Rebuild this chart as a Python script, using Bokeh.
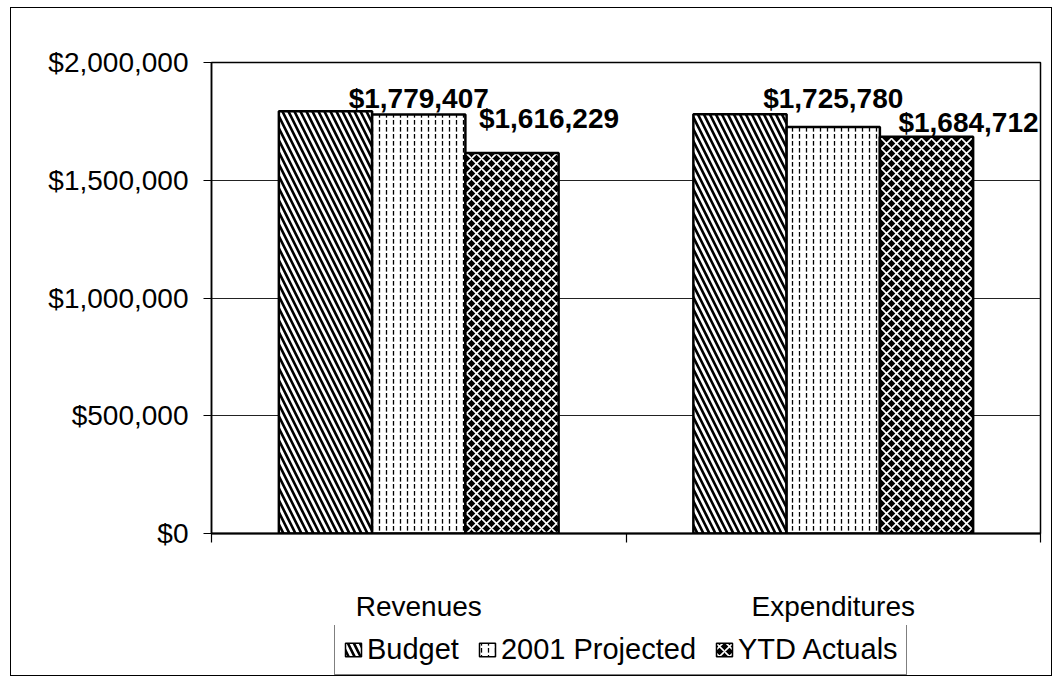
from bokeh.plotting import figure
from bokeh.layouts import column
from bokeh.models import (ColumnDataSource, Range1d, FixedTicker, NumeralTickFormatter,
                          LinearAxis, Legend, LegendItem, LabelSet, Grid, CustomJSTickFormatter)
from bokeh.core.properties import value
from bokeh.embed import file_html
from bokeh.resources import INLINE

# ---------------- data ----------------
categories = ["Revenues", "Expenditures"]
series = ["Budget", "2001 Projected", "YTD Actuals"]
budget = [1793000, 1780000]
projected = [1779407, 1725780]
ytd_actuals = [1616229, 1684712]
y_ticks = [0, 500000, 1000000, 1500000, 2000000]

# ---------------- styles ----------------
FONT = "Liberation Sans"
W = 1040
bar_w = 0.225
dodges = [-bar_w, 0.0, bar_w]
# (pattern, scale, weight, fill colour, hatch colour)
hatches = [("\\", 12, 2.6, "white", "black"),
           (":", 7, 1.3, "white", "black"),
           ("x", 10, 1.6, "black", "white")]
# manual label nudges (screen px), as placed in the original
proj_dx, proj_dy = [0, 0], [16, 29]
ytd_dx, ytd_dy = [37, 42], [34, 14]

p = figure(width=W, height=617,
           x_range=Range1d(0, len(categories)), y_range=Range1d(0, 2000000),
           x_axis_type=None, y_axis_type=None,
           output_backend="svg", toolbar_location=None,
           min_border_left=200, min_border_right=11, min_border_top=54, min_border_bottom=92)
p.outline_line_color = "black"
p.outline_line_width = 1.5
p.background_fill_color = "white"
p.border_fill_color = "white"

yaxis = LinearAxis(ticker=FixedTicker(ticks=y_ticks, minor_ticks=[]),
                   formatter=NumeralTickFormatter(format="$0,0"))
yaxis.major_label_text_font = FONT
yaxis.major_label_text_font_size = "28px"
yaxis.major_label_text_color = "black"
yaxis.axis_line_width = 1.5
yaxis.major_tick_out = 8
yaxis.major_tick_in = 0
yaxis.major_tick_line_width = 1.2
yaxis.minor_tick_out = 0
yaxis.major_label_standoff = 15
p.add_layout(yaxis, "left")

xaxis = LinearAxis(ticker=FixedTicker(ticks=[i + 0.5 for i in range(len(categories))],
                                      minor_ticks=list(range(len(categories) + 1))),
                   formatter=CustomJSTickFormatter(args=dict(names=categories),
                                                   code="return names[Math.floor(tick)] || ''"))
xaxis.major_label_text_font = FONT
xaxis.major_label_text_font_size = "28px"
xaxis.major_label_text_color = "black"
xaxis.axis_line_width = 2
xaxis.major_tick_out = 0
xaxis.major_tick_in = 0
xaxis.minor_tick_out = 9
xaxis.minor_tick_in = 0
xaxis.minor_tick_line_width = 1.2
xaxis.major_label_standoff = 48
p.add_layout(xaxis, "below")

p.add_layout(Grid(dimension=1, ticker=FixedTicker(ticks=y_ticks[1:-1]),
                  grid_line_color="#222222", grid_line_width=1))

sources = []
for j, vals in enumerate([budget, projected, ytd_actuals]):
    src = ColumnDataSource(dict(x=[i + 0.5 + dodges[j] for i in range(len(categories))], top=vals))
    sources.append(src)
    pat, sc, wt, fc, hc = hatches[j]
    p.vbar(x="x", top="top", width=bar_w, source=src,
           fill_color=fc, line_color="black", line_width=2.5,
           hatch_pattern=pat, hatch_scale=sc, hatch_weight=wt, hatch_color=hc)

lab = ColumnDataSource(dict(
    x=[i + 0.5 + dodges[1] for i in range(len(categories))] + [i + 0.5 + dodges[2] for i in range(len(categories))],
    y=projected + ytd_actuals,
    text=[f"${v:,}" for v in projected + ytd_actuals],
    dx=proj_dx + ytd_dx,
    dy=proj_dy + ytd_dy,
))
p.add_layout(LabelSet(x="x", y="y", text="text", x_offset="dx", y_offset="dy", source=lab,
                      text_align="center", text_baseline="middle",
                      text_font=value(FONT), text_font_style="bold", text_font_size=value("28px"),
                      text_color="black"))

# ---------------- legend strip (separate figure so the box is not clipped) ----------------
lf = figure(width=W, height=50, x_range=Range1d(0, 1), y_range=Range1d(0, 1),
            x_axis_type=None, y_axis_type=None, output_backend="svg", toolbar_location=None,
            min_border=0)
lf.outline_line_color = None
items = []
for j, s in enumerate(series):
    pat, sc, wt, fc, hc = hatches[j]
    r = lf.vbar(x="x", top="top", width=bar_w, source=sources[j], visible=False,
                fill_color=fc, line_color="black", line_width=1.5,
                hatch_pattern=pat, hatch_scale=sc, hatch_weight=wt, hatch_color=hc)
    items.append(LegendItem(label=s, renderers=[r]))

legend = Legend(items=items, location=(123, 0), orientation="horizontal")
legend.border_line_color = "black"
legend.border_line_width = 1.5
legend.background_fill_color = "white"
legend.background_fill_alpha = 1
legend.inactive_fill_alpha = 0
legend.label_text_font = FONT
legend.label_text_font_size = "29px"
legend.label_text_color = "black"
legend.glyph_width = 20
legend.glyph_height = 17
legend.label_standoff = 4
legend.spacing = 18
legend.padding = 8
legend.margin = 0
lf.add_layout(legend)

layout = column(p, lf, spacing=0)
layout.styles = {"border": "1px solid black", "margin": "7px 0 0 10px"}
open("out.html", "w").write(file_html(layout, INLINE))
